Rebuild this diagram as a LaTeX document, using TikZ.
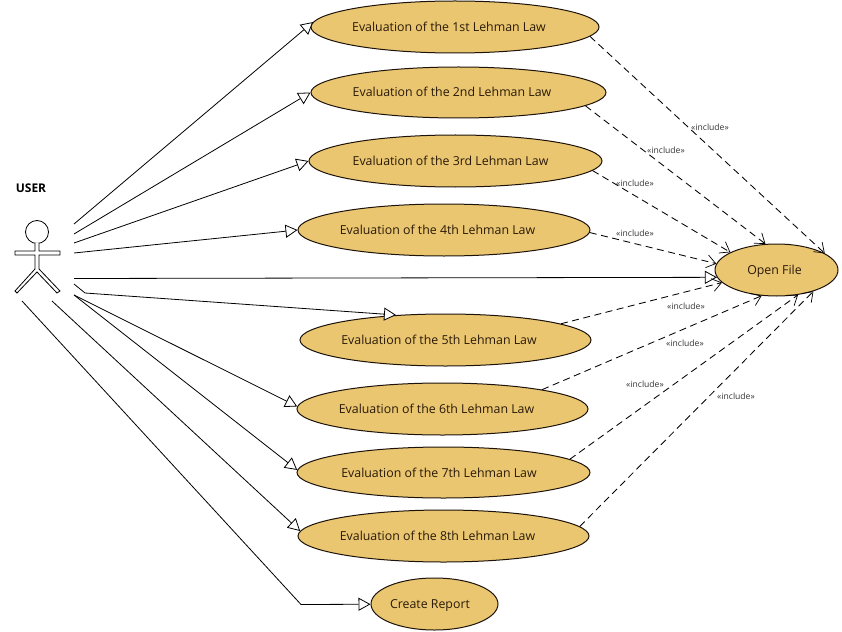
\documentclass[tikz,border=0pt]{standalone}
\usepackage{fontspec}
\setmainfont{Open Sans}
\usetikzlibrary{arrows.meta,shapes.geometric}
\definecolor{ucfill}{HTML}{EAC671}
\definecolor{uctext}{HTML}{2A1A08}
\tikzset{
  x=1pt,y=-1pt,
  usecase/.style={draw=black!85!brown,fill=ucfill,line width=1pt,ellipse,inner sep=0pt,text=uctext,text height=11pt,text depth=2pt,font=\fontsize{12.35}{14}\selectfont},
  assoc/.style={draw=black,line width=.8pt,-{Triangle[open,length=12pt,width=13pt,fill=white]}},
  incl/.style={draw=black,line width=.85pt,dash pattern=on 7pt off 4.5pt,-{Straight Barb[length=9pt,width=13pt,line width=.7pt]}},
  inclabel/.style={font=\fontsize{8.6}{9}\selectfont,text=black!80,inner sep=0pt},
  actorline/.style={draw=black,line width=.8pt},
}
% name, centre, width, height, text, twice the leftward text offset
\newcommand{\uc}[6]{\node[usecase,minimum width=#3pt,minimum height=#4pt] (#1) at (#2) {\makebox[0pt][c]{#5\kern#6pt}};}
\begin{document}
\begin{tikzpicture}
\useasboundingbox (0,0) rectangle (842,631);
\uc{e1}{455,27}{288}{52}{Evaluation of the 1st Lehman Law}{12}
\uc{e2}{458.5,92.5}{295}{51}{Evaluation of the 2nd Lehman Law}{13}
\uc{e3}{455.5,161}{293}{52}{Evaluation of the 3rd Lehman Law}{10}
\uc{e4}{444,230}{292}{52}{Evaluation of the 4th Lehman Law}{13}
\uc{e5}{445.5,340}{291}{52}{Evaluation of the 5th Lehman Law}{13}
\uc{e6}{442.5,409}{291}{52}{Evaluation of the 6th Lehman Law}{12}
\uc{e7}{443.5,472.5}{293}{51}{Evaluation of the 7th Lehman Law}{9}
\uc{e8}{443.5,536}{291}{52}{Evaluation of the 8th Lehman Law}{12}
\uc{rep}{434.5,604}{127}{52}{Create Report}{9}
\uc{open}{776.5,270}{123}{52}{Open File}{4}
\node[font=\bfseries\fontsize{12}{14}\selectfont,inner sep=0pt] (user) at (31,188) {USER};
% actor
\node[draw=black,fill=white,circle,minimum size=23pt,inner sep=0pt,line width=.8pt] (head) at (37,232) {};
\path[actorline,fill=white,line join=miter] (35,243) -- (35,251) -- (15,251) -- (15,255) -- (35,255) -- (35,269) -- (15,291) -- (17,293) -- (37,272) -- (57,293) -- (60,291) -- (39,269) -- (39,255) -- (60,255) -- (60,251) -- (39,251) -- (39,243);
% association starts
\coordinate (a1) at (74,224);
\coordinate (a2) at (74,234);
\coordinate (a3) at (74,243);
\coordinate (a4) at (74,253);
\coordinate (a5) at (74,278.5);
\coordinate (a6) at (74,284);
\coordinate (a6b) at (85,293);
\coordinate (a7) at (74,295);
\coordinate (a9) at (52,301);
\coordinate (a10) at (22,301);
\coordinate (a10b) at (301,604.5);
\coordinate (t5) at (396,315);
\draw[assoc] (a1) -- (e1.178.8);
\draw[assoc] (a2) -- (e2.180);
\draw[assoc] (a3) -- (e3.180);
\draw[assoc] (a4) -- (e4.180);
\draw[assoc] (a5) -- (open.187.8);
\draw[assoc] (a6) -- (a6b) -- (t5);
\draw[assoc] (a7) -- (e6.179.2);
\draw[assoc] (a7) -- (e7.179);
\draw[assoc] (a9) -- (e8.178.8);
\draw[assoc] (a10) -- (a10b) -- (rep);
% includes
\draw[incl] (e1.-4.6) -- (open.19);
\draw[incl] (e2.-6.5) -- (open.113.9);
\draw[incl] (e3.-4.2) -- (open.159.9);
\draw[incl] (e4.-1.6) -- (open.174.3);
\draw[incl] (e5.8.2) -- (open.193.4);
\draw[incl] (e6.11.8) -- (open.240.9);
\draw[incl] (e7.6) -- (open.-49.1);
\draw[incl] (e8.4.6) -- (open.-30.4);
\node[inclabel] (l1) at (710,127) {«include»};
\node[inclabel] (l2) at (666,150) {«include»};
\node[inclabel] (l3) at (635,183) {«include»};
\node[inclabel] (l4) at (635,233) {«include»};
\node[inclabel] (l5) at (686,306) {«include»};
\node[inclabel] (l6) at (685,343) {«include»};
\node[inclabel] (l7) at (645,384) {«include»};
\node[inclabel] (l8) at (736,396) {«include»};
\end{tikzpicture}
\end{document}
